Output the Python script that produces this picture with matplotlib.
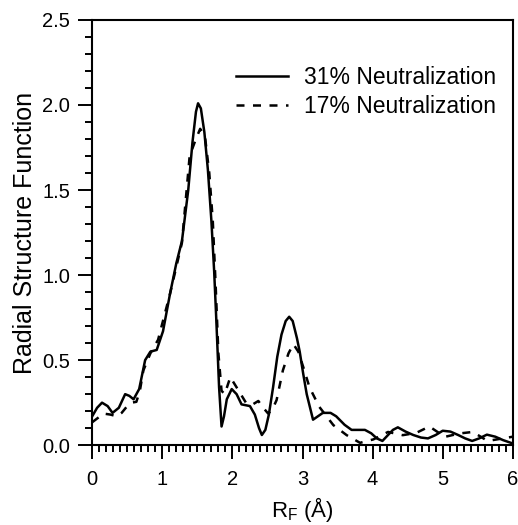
import matplotlib
matplotlib.use('Agg')
import matplotlib.pyplot as plt
from matplotlib.ticker import MultipleLocator, FormatStrFormatter

plt.rcParams['font.family'] = ['Liberation Sans', 'DejaVu Sans']

# 31% neutralization (solid)
r_31 = [0.0, 0.07, 0.14, 0.22, 0.29, 0.38, 0.47, 0.53, 0.59, 0.67, 0.755, 0.83, 0.92, 1.01, 1.11,
        1.2, 1.28, 1.37, 1.43, 1.48, 1.51, 1.55, 1.6, 1.65, 1.7, 1.74, 1.77, 1.81, 1.845, 1.88,
        1.92, 1.99, 2.06, 2.13, 2.25, 2.32, 2.38, 2.42, 2.47, 2.52, 2.58, 2.64, 2.7, 2.76, 2.81,
        2.86, 2.92, 2.96, 3.01, 3.06, 3.15, 3.22, 3.29, 3.4, 3.48, 3.6, 3.7, 3.8, 3.89, 3.98, 4.06,
        4.14, 4.22, 4.29, 4.36, 4.47, 4.58, 4.69, 4.79, 4.9, 5.0, 5.11, 5.22, 5.32, 5.42, 5.52,
        5.63, 5.75, 5.86, 6.0]
rsf_31 = [0.17, 0.22, 0.25, 0.23, 0.19, 0.22, 0.30, 0.29, 0.27, 0.33, 0.50, 0.55, 0.56, 0.67, 0.89,
          1.07, 1.20, 1.50, 1.78, 1.96, 2.01, 1.98, 1.84, 1.62, 1.32, 1.02, 0.74, 0.34, 0.11, 0.17,
          0.27, 0.33, 0.30, 0.24, 0.23, 0.18, 0.10, 0.06, 0.09, 0.18, 0.34, 0.52, 0.65, 0.73, 0.755,
          0.73, 0.63, 0.55, 0.42, 0.30, 0.15, 0.17, 0.19, 0.19, 0.17, 0.12, 0.09, 0.09, 0.09, 0.07, 0.04,
          0.025, 0.06, 0.09, 0.105, 0.08, 0.06, 0.045, 0.04, 0.06, 0.085, 0.08, 0.06, 0.04, 0.025, 0.04,
          0.062, 0.05, 0.03, 0.01]

# 17% neutralization (dashed)
r_17 = [0.0, 0.08, 0.16, 0.26, 0.35, 0.42, 0.49, 0.56, 0.63, 0.68, 0.73, 0.83, 0.94, 0.99, 1.11,
        1.28, 1.39, 1.47, 1.54, 1.61, 1.67, 1.72, 1.76, 1.8, 1.845, 1.89, 1.97, 2.06, 2.2, 2.29,
        2.37, 2.44, 2.51, 2.57, 2.63, 2.72, 2.8, 2.87, 2.94, 3.01, 3.1, 3.24, 3.44, 3.63, 3.82,
        4.01, 4.22, 4.43, 4.62, 4.81, 5.03, 5.24, 5.43, 5.64, 5.86, 6.0]
rsf_17 = [0.135, 0.16, 0.186, 0.18, 0.17, 0.19, 0.225, 0.25, 0.255, 0.32, 0.44, 0.54, 0.62, 0.70, 0.89,
          1.19, 1.70, 1.79, 1.86, 1.81, 1.60, 1.32, 0.95, 0.54, 0.32, 0.30, 0.40, 0.34, 0.245, 0.24,
          0.26, 0.22, 0.186, 0.21, 0.265, 0.44, 0.54, 0.594, 0.55, 0.46, 0.34, 0.225, 0.118, 0.059, 0.014,
          0.034, 0.078, 0.059, 0.072, 0.11, 0.049, 0.069, 0.078, 0.025, 0.04, 0.05]

fig = plt.figure(figsize=(5.18, 5.25), dpi=100)
ax = fig.add_axes([0.178, 0.152, 0.812, 0.810])

ax.plot(r_31, rsf_31, color='black', linewidth=1.8, label='31% Neutralization')
ax.plot(r_17, rsf_17, color='black', linewidth=1.8, linestyle=(0, (3.2, 3.4)),
        label='17% Neutralization')

ax.set_xlim(0, 6)
ax.set_ylim(0, 2.5)
ax.xaxis.set_major_locator(MultipleLocator(1))
ax.xaxis.set_minor_locator(MultipleLocator(0.1))
ax.yaxis.set_major_locator(MultipleLocator(0.5))
ax.yaxis.set_minor_locator(MultipleLocator(0.1))
ax.yaxis.set_major_formatter(FormatStrFormatter('%.1f'))
ax.tick_params(which='major', direction='out', length=10, width=1.4, labelsize=14.5, pad=6)
ax.tick_params(axis='x', which='major', pad=8)
ax.tick_params(which='minor', direction='out', length=5, width=1.4)
for s in ax.spines.values():
    s.set_linewidth(1.5)

ax.set_xlabel('R$_\\mathregular{F}$ (Å)', fontsize=16, labelpad=4)
ax.set_ylabel('Radial Structure Function', fontsize=18, labelpad=4)

ax.legend(loc='upper right', bbox_to_anchor=(1.01, 0.94), frameon=False, fontsize=16.5,
          handlelength=2.3, handletextpad=0.7, labelspacing=0.25)

plt.savefig('out.png', dpi=100)
plt.close(fig)
